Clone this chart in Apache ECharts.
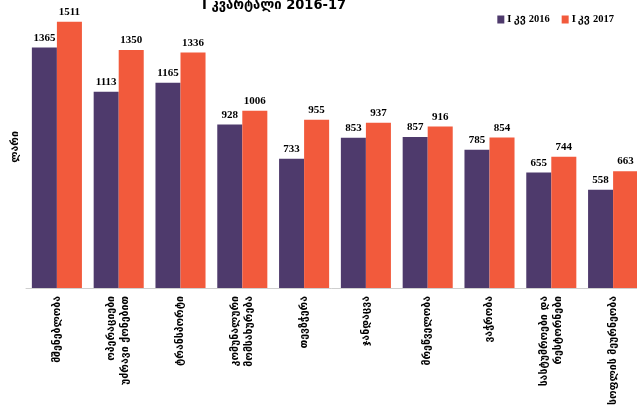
<!DOCTYPE html>
<html lang="ka">
<head>
    <meta charset="UTF-8">
    <title>I კვარტალი 2016-17</title>
    <style>
        *{
            margin: 0;
            padding: 0;
        }
        body{
            background: #fff;
        }
    </style>
</head>
<body>
<div id="main" style="width: 637px;height: 408px;"></div>
<script src="https://cdn.jsdelivr.net/npm/echarts@6/dist/echarts.min.js"></script>
<script type="text/javascript">
    // მონაცემები
    var categories = ['მშენებლობა', 'ოპერაციები\nუძრავი ქონებით', 'ტრანსპორტი', 'კომუნალური\nმომსახურება',
        'თევზჭერა', 'ჯანდაცვა', 'მრეწველობა', 'ვაჭრობა', 'სასტუმროები და\nრესტორნები', 'სოფლის მეურნეობა'];
    var q2016 = [1365, 1113, 1165, 928, 733, 853, 857, 785, 655, 558];
    var q2017 = [1511, 1350, 1336, 1006, 955, 937, 916, 854, 744, 663];
    var seriesNames = ['I კვ 2016', 'I კვ 2017'];

    var myChart = echarts.init(document.getElementById('main'));

    var valueLabel = {
        show: true,
        position: 'top',
        distance: 4,
        color: '#000',
        fontFamily: 'Liberation Serif',
        fontWeight: 'bold',
        fontSize: 11
    };

    myChart.setOption({
        animation: false,
        title: {
            text: 'I კვარტალი 2016-17',
            left: 197,
            top: -7,
            textStyle: {
                fontFamily: 'DejaVu Sans Condensed',
                fontWeight: 'bold',
                fontSize: 14.5,
                color: '#000'
            }
        },
        legend: {
            right: 23,
            top: 14,
            padding: 0,
            itemWidth: 7,
            itemHeight: 8,
            itemGap: 12,
            icon: 'rect',
            textStyle: {
                fontFamily: 'Liberation Serif',
                fontWeight: 'bold',
                fontSize: 10.5,
                color: '#000',
                padding: [0, 0, 0, -2]
            },
            data: seriesNames
        },
        grid: {
            left: 26,
            width: 618,
            top: 6,
            bottom: 120,
            outerBoundsMode: 'none'
        },
        xAxis: {
            type: 'category',
            data: categories,
            axisLine: { lineStyle: { color: '#cfcfcf', width: 1 } },
            axisTick: { show: false },
            axisLabel: {
                rotate: 90,
                margin: 8,
                interval: 0,
                color: '#000',
                fontFamily: 'DejaVu Sans',
                fontWeight: 'bold',
                fontSize: 10.5,
                lineHeight: 14
            }
        },
        yAxis: {
            type: 'value',
            min: 0,
            max: 1600,
            name: 'ლარი',
            nameLocation: 'middle',
            nameGap: 5,
            nameTextStyle: {
                fontFamily: 'DejaVu Sans',
                fontWeight: 'bold',
                fontSize: 10.5,
                color: '#000'
            },
            axisLine: { show: false },
            axisTick: { show: false },
            axisLabel: { show: false },
            splitLine: { show: false }
        },
        series: [
            {
                name: seriesNames[0],
                type: 'bar',
                color: '#4e3a6c',
                barGap: '0%',
                barCategoryGap: '19%',
                label: valueLabel,
                data: q2016
            },
            {
                name: seriesNames[1],
                type: 'bar',
                color: '#f25a3c',
                label: valueLabel,
                data: q2017
            }
        ]
    });
</script>
</body>
</html>
